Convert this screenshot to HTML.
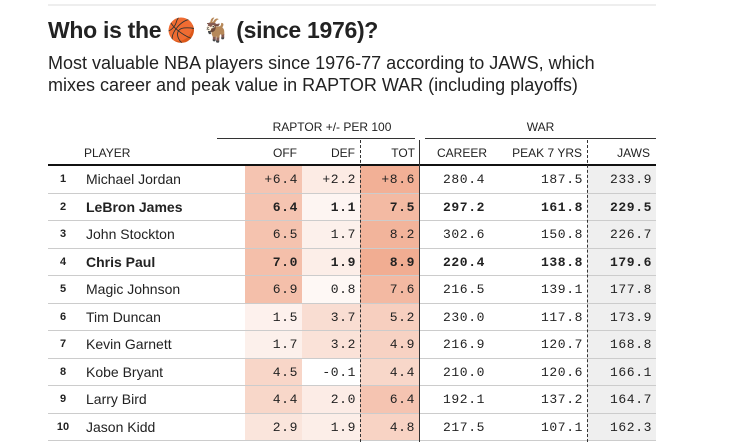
<!DOCTYPE html>
<html><head><meta charset="utf-8">
<style>
body{margin:0;width:730px;height:442px;background:#fff;overflow:hidden;font-family:"Liberation Sans",sans-serif;position:relative;color:#222}
.a{position:absolute;white-space:nowrap}
.num{font-family:"Liberation Mono","DejaVu Sans Mono",monospace;font-size:13px;letter-spacing:0.6px;text-align:right}
.hd{font-size:12px;color:#222}
</style></head><body>
<div class="a" style="left:48px;top:4px;width:608px;height:2px;background:#eee"></div>
<div class="a" style="left:48px;top:17px;font-size:23px;font-weight:bold;letter-spacing:-0.3px">Who is the 🏀 🐐 (since 1976)?</div>
<div class="a" style="left:48px;top:52px;font-size:18px;line-height:22px;color:#222">Most valuable NBA players since 1976-77 according to JAWS, which<br>mixes career and peak value in RAPTOR WAR (including playoffs)</div>
<div class="a hd" style="left:245px;top:120px;width:174px;text-align:center">RAPTOR +/- PER 100</div>
<div class="a" style="left:217px;top:138px;width:198px;height:1px;background:#333"></div>
<div class="a hd" style="left:425px;top:120px;width:231px;text-align:center">WAR</div>
<div class="a" style="left:425px;top:138px;width:231px;height:1px;background:#333"></div>
<div class="a hd" style="left:84px;top:146px">PLAYER</div>
<div class="a hd" style="left:245px;top:146px;width:52px;text-align:right">OFF</div>
<div class="a hd" style="left:302px;top:146px;width:53px;text-align:right">DEF</div>
<div class="a hd" style="left:361px;top:146px;width:54px;text-align:right">TOT</div>
<div class="a hd" style="left:425px;top:146px;width:62px;text-align:right">CAREER</div>
<div class="a hd" style="left:490px;top:146px;width:92px;text-align:right">PEAK 7 YRS</div>
<div class="a hd" style="left:587px;top:146px;width:63px;text-align:right">JAWS</div>
<div id="rows"></div>
<div class="a" style="left:48px;top:164px;width:608px;height:2px;background:#111"></div>
<div class="a" style="left:360px;top:140px;height:302px;border-left:1px dashed #333"></div>
<div class="a" style="left:419px;top:140px;height:302px;width:1px;background:#333"></div>
<div class="a" style="left:587px;top:140px;height:302px;border-left:1px dashed #333"></div>
<script>
const players=["Michael Jordan","LeBron James","John Stockton","Chris Paul","Magic Johnson","Tim Duncan","Kevin Garnett","Kobe Bryant","Larry Bird","Jason Kidd"];
const bold=[false,true,false,true,false,false,false,false,false,false];
const off=[6.4,6.4,6.5,7.0,6.9,1.5,1.7,4.5,4.4,2.9];
const def=[2.2,1.1,1.7,1.9,0.8,3.7,3.2,-0.1,2.0,1.9];
const tot=[8.6,7.5,8.2,8.9,7.6,5.2,4.9,4.4,6.4,4.8];
const career=[280.4,297.2,302.6,220.4,216.5,230.0,216.9,210.0,192.1,217.5];
const peak=[187.5,161.8,150.8,138.8,139.1,117.8,120.7,120.6,137.2,107.1];
const jaws=[233.9,229.5,226.7,179.6,177.8,173.9,168.8,166.1,164.7,162.3];
const top0=166,rh=27.5;
const root=document.getElementById('rows');
function heat(v){const a=Math.max(0,Math.min(1,v/10))*0.68;return `rgba(232,120,75,${a})`;}
function fmt(v,plus){let s=v.toFixed(1);if(plus&&v>0)s='+'+s;return s;}
players.forEach((p,i)=>{
  const y=top0+i*rh;const w=bold[i]?'bold':'normal';const plus=i===0;
  const row=document.createElement('div');row.className='a';
  row.style.cssText=`left:0;top:${y}px;width:730px;height:${rh}px`;
  
  
  const cells=[
   ['jaws-bg',`left:587px;width:69px;height:100%;background:#efefef`],
   ['off-cell',`left:245px;width:57px;height:100%;background:${heat(off[i])}`],
   ['def-cell',`left:302px;width:58px;height:100%;background:${heat(def[i])}`],
   ['tot-cell',`left:360px;width:59px;height:100%;background:${heat(tot[i])}`],
  ];
  cells.forEach(c=>{const e=document.createElement('div');e.className='a';e.style.cssText='top:0;'+c[1];
    
    
    row.appendChild(e);});
  const texts=[
   ['rank',`left:55px;width:16px;font-size:11px;font-weight:bold;text-align:center`,String(i+1)],
   ['player-name',`left:86px;font-size:14px;font-weight:${w}`,p],
   ['off-value',`left:245px;width:53px;font-weight:${w}`,fmt(off[i],plus),1],
   ['def-value',`left:302px;width:54px;font-weight:${w}`,fmt(def[i],plus),1],
   ['tot-value',`left:360px;width:55px;font-weight:${w}`,fmt(tot[i],plus),1],
   ['career-value',`left:425px;width:60px;font-weight:${w}`,fmt(career[i]),1],
   ['peak-value',`left:490px;width:93px;font-weight:${w}`,fmt(peak[i]),1],
   ['jaws-value',`left:587px;width:65px;font-weight:${w}`,fmt(jaws[i]),1],
  ];
  texts.forEach(t=>{const e=document.createElement('div');e.className='a'+(t[3]?' num':'');
    e.style.cssText=`top:0;line-height:${rh}px;`+t[1];e.textContent=t[2];
    
    
    row.appendChild(e);});
  const ln=document.createElement('div');ln.className='a';
  ln.style.cssText=`left:48px;top:${rh-1}px;width:608px;height:1px;background:#ccc`;
  
  
  row.appendChild(ln);
  root.appendChild(row);
});
</script>
</body></html>
